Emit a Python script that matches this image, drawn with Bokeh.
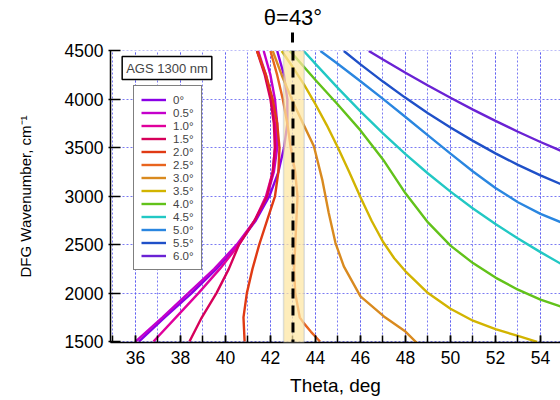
from bokeh.plotting import figure
from bokeh.models import (Range1d, Legend, LegendItem, Label, BoxAnnotation, Span,
                          SingleIntervalTicker, FixedTicker, LinearAxis)
from bokeh.embed import file_html
from bokeh.resources import INLINE

FONT = "Liberation Sans"

# ---- data ----
labels = ["0°", "0.5°", "1.0°", "1.5°", "2.0°", "2.5°", "3.0°", "3.5°",
          "4.0°", "4.5°", "5.0°", "5.5°", "6.0°"]
colors = ["#8a00e6", "#c400cc", "#e0009c", "#d6005a", "#e03a14", "#e8641e",
          "#d98a1f", "#d2b400", "#62c21a", "#22c8c4", "#2a86e0", "#1f50c8", "#6a22d4"]

wn_c = [1500, 1750, 2000, 2250, 2500, 2750, 3000, 3250, 3500, 3750, 4000, 4250, 4500]
th_00 = [36.15, 37.3, 38.5, 39.6, 40.55, 41.35, 41.95, 42.35, 42.6, 42.75, 42.75, 42.6, 42.3]
th_05 = [36.0, 37.2, 38.35, 39.5, 40.5, 41.3, 41.85, 42.15, 42.3, 42.3, 42.2, 42.0, 41.7]
th_10 = [36.8, 37.8, 38.8, 39.75, 40.6, 41.3, 41.8, 42.1, 42.2, 42.2, 42.05, 41.8, 41.45]
th_15 = [38.4, 38.95, 39.6, 40.15, 40.6, 41.3, 41.85, 42.1, 42.2, 42.15, 42.0, 41.75, 41.4]
th_20 = [40.85, 40.8, 40.95, 41.2, 41.5, 41.85, 42.2, 42.35, 42.4, 42.3, 42.1, 41.8, 41.4]

wn_25 = [1500, 1600, 1690, 1750, 2000, 2250, 2500, 2750, 3000, 3250, 3500, 3750, 4000, 4250, 4500]
th_25 = [44.2, 43.8, 43.48, 43.3, 43.1, 43.05, 43.1, 43.15, 43.2, 43.1, 42.9, 42.75, 42.55, 42.3, 42.0]

wn_30 = [1490, 1603, 1759, 1966, 2276, 2517, 2828, 3172, 3517, 3750, 4000, 4250, 4500]
th_30 = [48.49, 48.0, 47.04, 46.0, 45.26, 44.89, 44.59, 44.3, 43.93, 43.45, 42.95, 42.5, 42.1]

wn_35 = [1497, 1558, 1628, 1715, 1838, 2000, 2225, 2360, 2530, 2745, 2990, 3250, 3500,
         3735, 3950, 4150, 4330, 4500]
th_35 = [53.85, 53.0, 52.0, 51.0, 50.0, 49.0, 48.0, 47.5, 47.0, 46.5, 46.0, 45.5, 45.0,
         44.5, 44.0, 43.5, 43.0, 42.5]

wn_40 = [1810, 1862, 1932, 2035, 2160, 2310, 2490, 2730, 3030, 3380, 3680, 3945, 4200, 4465, 4500]
th_40 = [55.6, 54.89, 54.0, 53.0, 52.0, 51.0, 50.0, 49.0, 48.0, 47.0, 46.0, 45.0, 44.0, 43.0, 42.85]

wn_45 = [2214, 2305, 2423, 2563, 2713, 2874, 3048, 3235, 3435, 3649, 3877, 4117, 4367, 4500]
th_45 = [55.6, 54.89, 54.0, 53.0, 52.0, 51.0, 50.0, 49.0, 48.0, 47.0, 46.0, 45.0, 44.0, 43.48]

wn_50 = [2668, 2733, 2818, 2938, 3086, 3256, 3440, 3629, 3818, 4005, 4188, 4366, 4500]
th_50 = [55.6, 54.89, 54.0, 53.0, 52.0, 51.0, 50.0, 49.0, 48.0, 47.0, 46.0, 45.0, 44.22]

wn_55 = [3062, 3127, 3216, 3324, 3443, 3572, 3710, 3858, 4016, 4184, 4362, 4500]
th_55 = [55.6, 54.89, 54.0, 53.0, 52.0, 51.0, 50.0, 49.0, 48.0, 47.0, 46.0, 45.26]

wn_60 = [3400, 3470, 3560, 3666, 3778, 3895, 4017, 4144, 4276, 4412, 4500]
th_60 = [55.6, 54.9, 54.0, 53.0, 52.0, 51.0, 50.0, 49.0, 48.0, 47.0, 46.37]

series_th = [th_00, th_05, th_10, th_15, th_20, th_25, th_30, th_35, th_40, th_45, th_50, th_55, th_60]
series_wn = [wn_c, wn_c, wn_c, wn_c, wn_c, wn_25, wn_30, wn_35, wn_40, wn_45, wn_50, wn_55, wn_60]

theta_mark = 43
band_lo, band_hi = 42.58, 43.5

# ---- figure ----
p = figure(width=560, height=400, x_range=Range1d(34.89, 54.89), y_range=Range1d(1490, 4505),
           output_backend="svg", toolbar_location=None,
           min_border_left=110, min_border_right=0, min_border_top=50, min_border_bottom=58)
p.outline_line_color = None
p.background_fill_color = "white"

p.xaxis.ticker = SingleIntervalTicker(interval=2, num_minor_ticks=2)
p.yaxis.ticker = SingleIntervalTicker(interval=500, num_minor_ticks=0)

for ax in (p.xaxis, p.yaxis):
    ax.axis_line_color = "black"
    ax.axis_line_width = 1.5
    ax.major_tick_line_color = "black"
    ax.major_tick_line_width = 1.5
    ax.major_label_text_font = FONT
    ax.major_label_text_font_size = "17.5px"
    ax.major_label_text_color = "black"
    ax.axis_label_text_font = FONT
    ax.axis_label_text_font_style = "normal"
    ax.axis_label_text_color = "black"

p.xaxis.major_tick_in = 7
p.xaxis.major_tick_out = 0
p.xaxis.minor_tick_in = 7
p.xaxis.minor_tick_out = 0
p.xaxis.minor_tick_line_color = "black"
p.xaxis.minor_tick_line_width = 1.5
p.xaxis.major_label_standoff = 8
p.xaxis.axis_label = "Theta, deg"
p.xaxis.axis_label_text_font_size = "19px"
p.xaxis.axis_label_standoff = 8

p.yaxis.major_tick_in = 10
p.yaxis.major_tick_out = 2
p.yaxis.minor_tick_line_color = None
p.yaxis.major_label_standoff = 5
p.yaxis.axis_label = "DFG Wavenumber, cm⁻¹"
p.yaxis.axis_label_text_font_size = "15px"
p.yaxis.axis_label_standoff = 28

# top axis carrying the theta marker label and the dash above the frame
top_ax = LinearAxis(ticker=FixedTicker(ticks=[theta_mark], minor_ticks=[]),
                    major_label_overrides={theta_mark: "θ=43°"},
                    axis_line_color=None, major_tick_in=0, major_tick_out=18,
                    major_tick_line_color="black", major_tick_line_width=3,
                    major_tick_line_dash="10 8", minor_tick_line_color=None,
                    major_label_standoff=3, major_label_text_font=FONT,
                    major_label_text_font_size="22px", major_label_text_color="black")
p.add_layout(top_ax, "above")

grid_c = "#5a5af0"
p.xgrid.grid_line_color = grid_c
p.xgrid.grid_line_dash = "2 2"
p.xgrid.grid_line_alpha = 0.8
p.xgrid.minor_grid_line_color = grid_c
p.xgrid.minor_grid_line_dash = "2 2"
p.xgrid.minor_grid_line_alpha = 0.8
p.ygrid.grid_line_color = grid_c
p.ygrid.grid_line_dash = "2 2"
p.ygrid.grid_line_alpha = 0.8

items = []
for lab, col, th, wn in zip(labels, colors, series_th, series_wn):
    r = p.line(th, wn, line_color=col, line_width=2.4)
    items.append(LegendItem(label=lab, renderers=[r]))

band = BoxAnnotation(left=band_lo, right=band_hi, fill_color="#fde6a2", fill_alpha=0.72,
                     line_color="#8ea2c4", line_width=1.5)
p.add_layout(band)
p.add_layout(Span(location=theta_mark, dimension="height", line_color="black",
                  line_width=3, line_dash="10 7"))

legend = Legend(items=items, location=(23, 72), padding=7, spacing=0, glyph_width=25,
                glyph_height=13, label_height=13, label_standoff=7, margin=0,
                label_text_font=FONT, label_text_font_size="11.5px",
                border_line_color="black", border_line_width=1.5,
                background_fill_color="white", background_fill_alpha=1)
p.add_layout(legend, "center")

p.add_layout(Label(x=56.5, y=274.5, x_units="screen", y_units="screen", text="AGS 1300 nm",
                   text_align="center", text_baseline="middle", text_font=FONT,
                   text_font_size="13px", border_line_color="black", border_line_width=1.5,
                   background_fill_color="white", padding=4))

open("out.html", "w").write(file_html(p, INLINE))
